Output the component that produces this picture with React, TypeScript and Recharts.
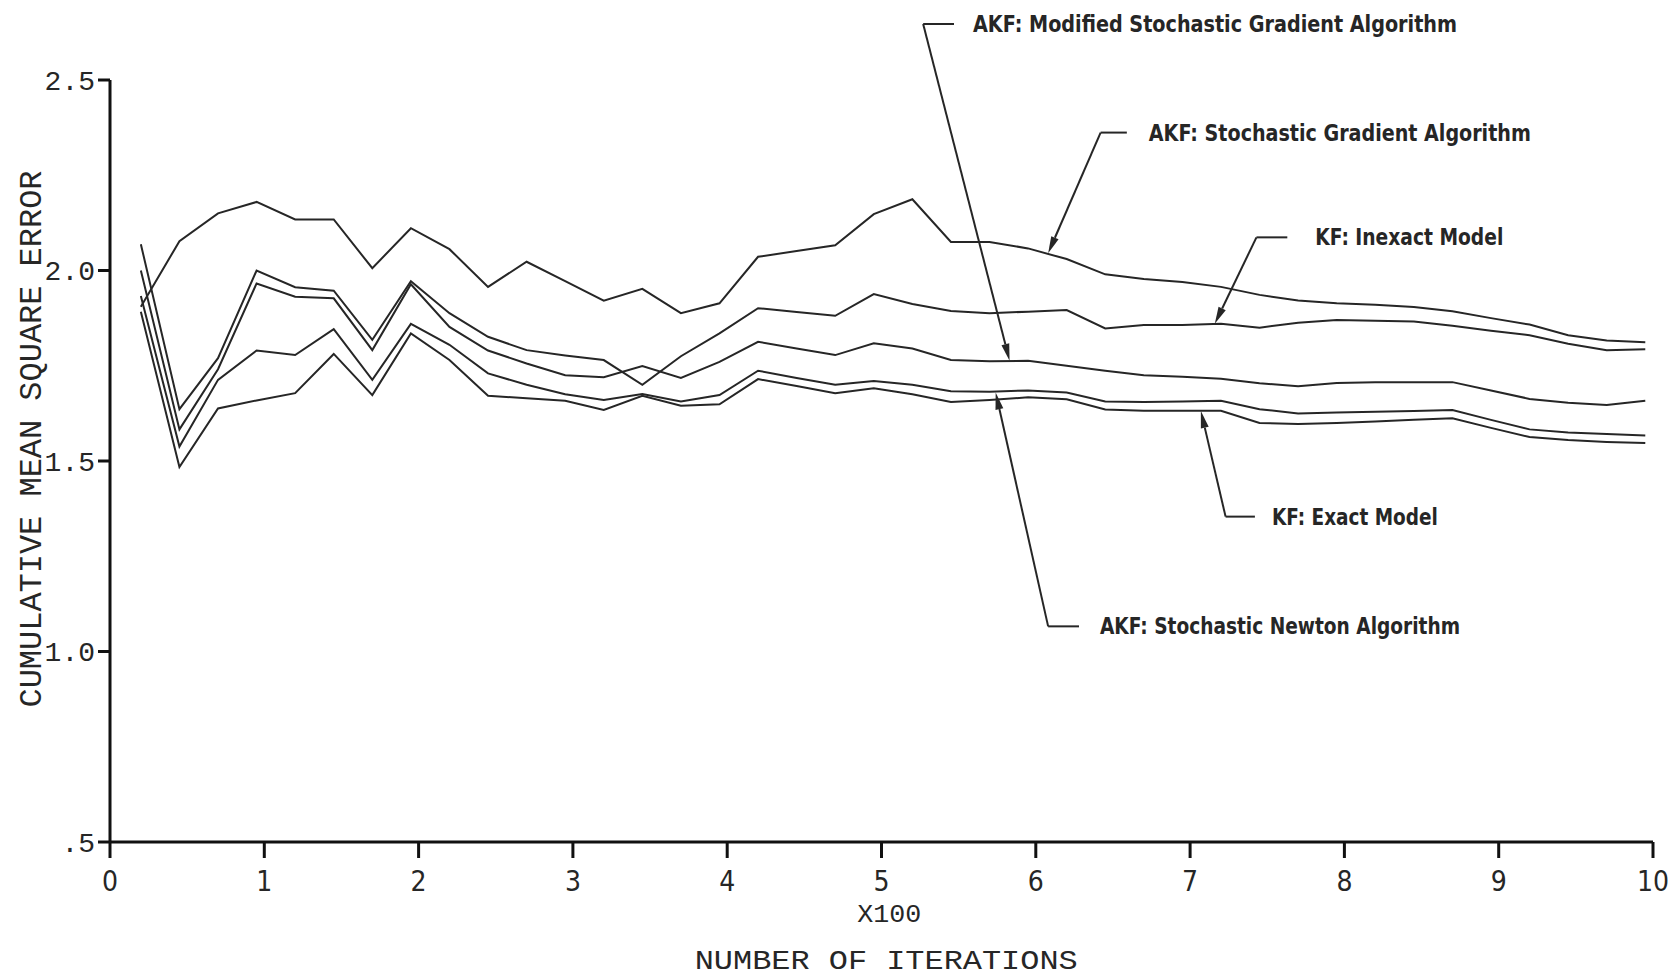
import React from "react";
import { LineChart, Line, XAxis, YAxis, ReferenceLine, Label } from "recharts";

// iterations in hundreds, sampled every 25
const iterations = [
  0.2, 0.45, 0.7, 0.95, 1.2, 1.45, 1.7, 1.95, 2.2, 2.45,
  2.7, 2.95, 3.2, 3.45, 3.7, 3.95, 4.2, 4.45, 4.7, 4.95,
  5.2, 5.45, 5.7, 5.95, 6.2, 6.45, 6.7, 6.95, 7.2, 7.45,
  7.7, 7.95, 8.2, 8.45, 8.7, 8.95, 9.2, 9.45, 9.7, 9.95,
];

const sgMse = [
  1.905, 2.077, 2.15, 2.18, 2.134, 2.134, 2.006, 2.111, 2.056, 1.957,
  2.023, 1.972, 1.921, 1.952, 1.888, 1.914, 2.036, 2.051, 2.066, 2.148,
  2.187, 2.075, 2.075, 2.058, 2.03, 1.99, 1.978, 1.97, 1.957, 1.936,
  1.921, 1.914, 1.91, 1.904, 1.893, 1.875, 1.858, 1.83, 1.816, 1.812,
];

const inexactMse = [
  2.069, 1.636, 1.77, 2.0, 1.956, 1.947, 1.818, 1.972, 1.888, 1.826,
  1.791, 1.777, 1.765, 1.7, 1.775, 1.835, 1.901, 1.891, 1.881, 1.938,
  1.912, 1.894, 1.888, 1.892, 1.896, 1.848, 1.857, 1.857, 1.86, 1.85,
  1.863, 1.87, 1.868, 1.866, 1.855, 1.842, 1.83, 1.808, 1.791, 1.793,
];

const modSgMse = [
  2.0, 1.583, 1.741, 1.966, 1.931, 1.927, 1.791, 1.964, 1.852, 1.79,
  1.756, 1.725, 1.72, 1.749, 1.718, 1.76, 1.813, 1.795, 1.778, 1.809,
  1.795, 1.765, 1.762, 1.763, 1.75, 1.737, 1.725, 1.721, 1.716, 1.704,
  1.696, 1.705, 1.707, 1.707, 1.707, 1.685, 1.663, 1.653, 1.647, 1.658,
];

const newtonMse = [
  1.933, 1.538, 1.713, 1.79, 1.778, 1.846, 1.713, 1.86, 1.805, 1.73,
  1.7, 1.675, 1.66, 1.676, 1.656, 1.673, 1.737, 1.718, 1.7, 1.71,
  1.7, 1.683, 1.682, 1.685, 1.68, 1.656, 1.655, 1.656, 1.658, 1.636,
  1.625, 1.627, 1.629, 1.631, 1.634, 1.608, 1.583, 1.575, 1.571, 1.567,
];

const exactMse = [
  1.892, 1.484, 1.638, 1.659, 1.678, 1.781, 1.673, 1.835, 1.765, 1.671,
  1.665, 1.658, 1.634, 1.671, 1.645, 1.649, 1.715, 1.697, 1.678, 1.691,
  1.675, 1.655, 1.66, 1.667, 1.662, 1.635, 1.632, 1.632, 1.632, 1.6,
  1.597, 1.6, 1.604, 1.608, 1.612, 1.587, 1.563, 1.555, 1.55, 1.547,
];

const iterTicks = [0, 1, 2, 3, 4, 5, 6, 7, 8, 9, 10];
const mseTicks = [0.5, 1.0, 1.5, 2.0, 2.5];
const mseTickLabels = [".5", "1.0", "1.5", "2.0", "2.5"];

const chartData = iterations.map((x, i) => ({
  x,
  sg: sgMse[i],
  inexact: inexactMse[i],
  modSg: modSgMse[i],
  newton: newtonMse[i],
  exact: exactMse[i],
}));

// leader lines: elbow -> arrow tip, elbow -> short stub, then the caption
const callouts = [
  { text: "AKF: Modified Stochastic Gradient Algorithm", tip: [5.83, 1.763], elbow: [5.27, 2.647], stub: [5.47, 2.647], gap: 19, width: 484 },
  { text: "AKF: Stochastic Gradient Algorithm", tip: [6.08, 2.045], elbow: [6.42, 2.362], stub: [6.59, 2.362], gap: 22, width: 382 },
  { text: "KF: Inexact Model", tip: [7.16, 1.86], elbow: [7.43, 2.087], stub: [7.63, 2.087], gap: 28, width: 188 },
  { text: "KF: Exact Model", tip: [7.07, 1.631], elbow: [7.23, 1.354], stub: [7.42, 1.354], gap: 17, width: 166 },
  { text: "AKF: Stochastic Newton Algorithm", tip: [5.74, 1.68], elbow: [6.08, 1.066], stub: [6.28, 1.066], gap: 21, width: 360 },
];

const INK = "#262626";
const MONO = "'Liberation Mono', 'DejaVu Sans Mono', monospace";
const PLOTTER = "'DejaVu Sans Condensed', 'Liberation Sans Narrow', 'DejaVu Sans', sans-serif";

const ArrowLine = (props: any) => {
  const { x1, y1, x2, y2 } = props;
  const ang = Math.atan2(y2 - y1, x2 - x1);
  const len = 17;
  const half = 4;
  const bx = x2 - len * Math.cos(ang);
  const by = y2 - len * Math.sin(ang);
  const px = -Math.sin(ang) * half;
  const py = Math.cos(ang) * half;
  return (
    <g>
      <line x1={x1} y1={y1} x2={bx} y2={by} stroke={INK} strokeWidth={2} />
      <polygon
        points={`${x2},${y2} ${bx + px},${by + py} ${bx - px},${by - py}`}
        fill={INK}
      />
    </g>
  );
};

const makeCaption = (text: string, gap: number, width: number) => (props: any) => {
  const { x1, y1, x2, y2 } = props;
  return (
    <g>
      <line x1={x1} y1={y1} x2={x2} y2={y2} stroke={INK} strokeWidth={2} />
      <text
        x={x2 + gap}
        y={y2}
        dominantBaseline="central"
        fontFamily={PLOTTER}
        fontWeight="bold"
        fontSize={23}
        fill={INK}
        textLength={width}
        lengthAdjust="spacingAndGlyphs"
      >
        {text}
      </text>
    </g>
  );
};

const XTitles = (props: any) => {
  const vb = props.viewBox ?? {};
  const x = vb.x ?? 110;
  const y = vb.y ?? 842;
  const width = vb.width ?? 1543;
  const cx = x + width * 0.505;
  return (
    <g fontFamily={MONO} fill={INK}>
      <text x={cx} y={y + 73} textAnchor="middle" dominantBaseline="central" fontSize={26} textLength={64} lengthAdjust="spacingAndGlyphs">
        X100
      </text>
      <text x={cx - 3} y={y + 119} textAnchor="middle" dominantBaseline="central" fontSize={28} textLength={383} lengthAdjust="spacingAndGlyphs">
        NUMBER OF ITERATIONS
      </text>
    </g>
  );
};

const YTitle = (props: any) => {
  const vb = props.viewBox ?? {};
  const x = vb.x ?? 10;
  const y = vb.y ?? 80;
  const cx = x + 22;
  const cy = y + 359;
  return (
    <text
      x={cx}
      y={cy}
      transform={`rotate(-90 ${cx} ${cy})`}
      textAnchor="middle"
      dominantBaseline="central"
      fontFamily={MONO}
      fontSize={31}
      fill={INK}
      textLength={537}
      lengthAdjust="spacingAndGlyphs"
    >
      CUMULATIVE MEAN SQUARE ERROR
    </text>
  );
};

const seriesKeys = ["sg", "inexact", "modSg", "newton", "exact"];

export default function App() {
  return (
    <div style={{ position: "absolute", left: 0, top: 0, width: 1668, height: 980, background: "#fff" }}>
      <LineChart
        width={1668}
        height={980}
        data={chartData}
        margin={{ top: 80, right: 15, bottom: 0, left: 10 }}
      >
        <XAxis
          dataKey="x"
          type="number"
          domain={[0, 10]}
          ticks={iterTicks}
          height={138}
          axisLine={{ stroke: "#111", strokeWidth: 3 }}
          tickLine={{ stroke: "#111", strokeWidth: 3 }}
          tickSize={16}
          tickMargin={13}
          tick={{ fontFamily: PLOTTER, fontSize: 28, fill: INK }}
        >
          <Label content={<XTitles />} />
        </XAxis>
        <YAxis
          type="number"
          domain={[0.5, 2.5]}
          ticks={mseTicks}
          width={100}
          axisLine={{ stroke: "#111", strokeWidth: 3 }}
          tickLine={{ stroke: "#111", strokeWidth: 3 }}
          tickSize={12}
          tickMargin={3}
          tickFormatter={(v: number) => mseTickLabels[mseTicks.indexOf(v)] ?? String(v)}
          tick={{ fontFamily: MONO, fontSize: 28, fill: INK }}
        >
          <Label content={<YTitle />} />
        </YAxis>
        {seriesKeys.map((k) => (
          <Line
            key={k}
            dataKey={k}
            type="linear"
            stroke={INK}
            strokeWidth={2}
            dot={false}
            activeDot={false}
            isAnimationActive={false}
          />
        ))}
        {callouts.map((c) => (
          <ReferenceLine
            key={c.text + "-arrow"}
            segment={[
              { x: c.elbow[0], y: c.elbow[1] },
              { x: c.tip[0], y: c.tip[1] },
            ]}
            ifOverflow="visible"
            shape={ArrowLine}
          />
        ))}
        {callouts.map((c) => (
          <ReferenceLine
            key={c.text + "-caption"}
            segment={[
              { x: c.elbow[0], y: c.elbow[1] },
              { x: c.stub[0], y: c.stub[1] },
            ]}
            ifOverflow="visible"
            shape={makeCaption(c.text, c.gap, c.width)}
          />
        ))}
      </LineChart>
    </div>
  );
}
